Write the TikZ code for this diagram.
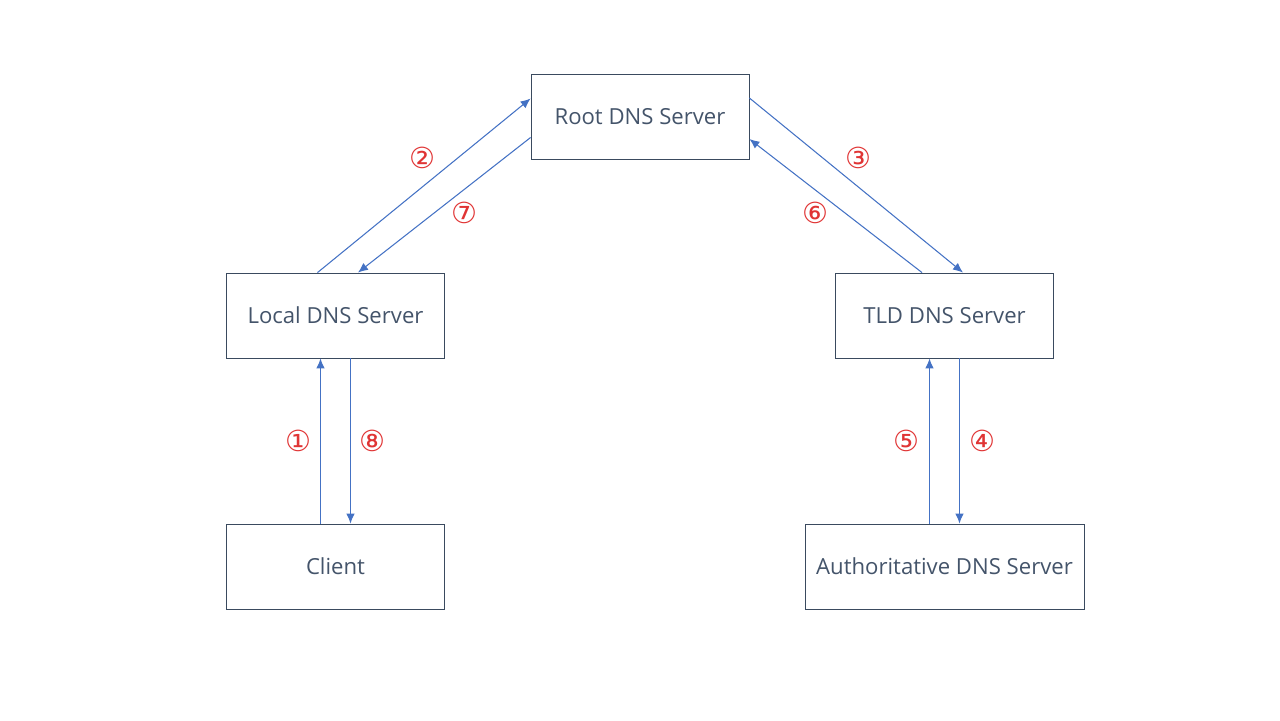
\documentclass[tikz,border=0pt]{standalone}
\usepackage{fontspec}
\setmainfont{Open Sans}
\newfontfamily\circfont{DejaVu Sans}
\usetikzlibrary{arrows.meta}
\definecolor{boxline}{HTML}{3A4A5E}
\definecolor{boxtext}{HTML}{44546A}
\definecolor{linkblue}{HTML}{4472C4}
\definecolor{stepred}{HTML}{E03434}
\begin{document}
\begin{tikzpicture}[x=0.02cm, y=-0.02cm,
	server/.style = {draw=boxline, line width=0.5pt, minimum height=1.7cm, text=boxtext, font=\fontsize{12.6}{15}\selectfont},
	link/.style = {draw=linkblue, line width=0.6pt, -{Latex[length=2mm,width=1.7mm]}},
	num/.style = {text=stepred, font=\circfont\fontsize{16.5}{18}\selectfont, inner sep=0pt}]
	
	\useasboundingbox (0,0) rectangle (1280,720);
	
	\node[server, minimum width=4.36cm] (root) at (640,116.5) {Root DNS Server};
	\node[server, minimum width=4.36cm] (local) at (335.5,315.5) {Local DNS Server};
	\node[server, minimum width=4.36cm] (tld) at (944.5,315.5) {TLD DNS Server};
	\node[server, minimum width=4.36cm] (client) at (335.5,566.5) {Client};
	\node[server, minimum width=5.58cm] (auth) at (944.5,566.5) {Authoritative DNS Server};
	
	\draw[link] ([xshift=-0.3cm]client.north) -- ([xshift=-0.3cm]local.south);
	\draw[link] ([xshift=-0.36cm]local.north) -- ([yshift=0.36cm]root.west);
	\draw[link] ([yshift=0.37cm]root.east) -- ([xshift=0.37cm]tld.north);
	\draw[link] ([xshift=0.3cm]tld.south) -- ([xshift=0.3cm]auth.north);
	\draw[link] ([xshift=-0.3cm]auth.north) -- ([xshift=-0.3cm]tld.south);
	\draw[link] ([xshift=-0.45cm]tld.north) -- ([yshift=-0.45cm]root.east);
	\draw[link] ([yshift=-0.42cm]root.west) -- ([xshift=0.45cm]local.north);
	\draw[link] ([xshift=0.3cm]local.south) -- ([xshift=0.3cm]client.north);
	
	\node[num] (n1) at (298,441) {①};
	\node[num] (n2) at (422,158) {②};
	\node[num] (n3) at (858,158) {③};
	\node[num] (n4) at (982,441) {④};
	\node[num] (n5) at (906,441) {⑤};
	\node[num] (n6) at (815,213) {⑥};
	\node[num] (n7) at (464,213) {⑦};
	\node[num] (n8) at (372,441) {⑧};
\end{tikzpicture}
\end{document}
